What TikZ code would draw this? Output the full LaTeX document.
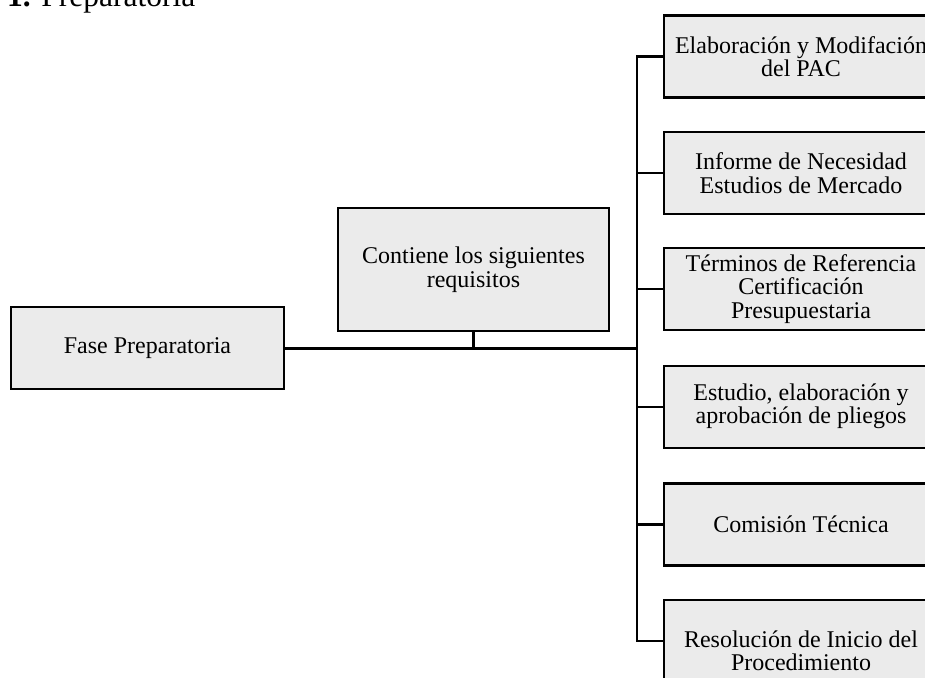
\documentclass[tikz,border=0pt]{standalone}
\usepackage{fontspec}
\setmainfont{Liberation Serif}
\definecolor{boxgray}{RGB}{235,235,235}
\begin{document}
\begin{tikzpicture}[x=1pt,y=-1pt,
  box/.style={draw=black, line width=2.3pt, fill=boxgray, inner sep=0pt, align=center,
    font=\fontsize{24}{23.5}\selectfont},
  fasebox/.style={box, minimum width=273pt, minimum height=82pt},
  reqbox/.style={box, minimum width=274pt, minimum height=82pt},
  conn/.style={line width=2.4pt, line join=miter},
  mainconn/.style={line width=3pt}]
\useasboundingbox (0,0) rectangle (925,677);
\clip (0,0) rectangle (925,677);

\node[anchor=base west, inner sep=0pt, font=\fontsize{31.5}{32}\selectfont] (title) at (7,7) {\textbf{1.} Preparatoria};

\node[fasebox] (fase) at (147.5,348) {Fase Preparatoria};
\node[box, minimum width=271pt, minimum height=123pt] (cont) at (473.5,269.5) {Contiene los siguientes\\requisitos};

\node[reqbox] (r1) at (801,56.5) {Elaboración y Modifación\\del PAC};
\node[reqbox] (r2) at (801,173) {Informe de Necesidad\\Estudios de Mercado};
\node[reqbox] (r3) at (801,289) {Términos de Referencia\\Certificación\\Presupuestaria};
\node[reqbox] (r4) at (801,407) {\raisebox{-6pt}{\begin{tabular}{@{}c@{}}Estudio, elaboración y\\[-0.5pt]aprobación de pliegos\end{tabular}}};
\node[reqbox] (r5) at (801,524.5) {Comisión Técnica};
\node[reqbox, minimum height=102pt] (r6) at (801,651) {Resolución de Inicio del\\Procedimiento};

\coordinate (bustop) at (637,56.5);
\coordinate (busbot) at (637,641);
\coordinate (busmid) at (637,348);

\draw[conn] (r1.west) -- (bustop) -- (busbot) -- (busbot -| r6.west);
\draw[conn] (bustop |- r2.west) -- (r2.west);
\draw[conn] (bustop |- r3.west) -- (r3.west);
\draw[conn] (bustop |- r4.west) -- (r4.west);
\draw[conn] (bustop |- r5.west) -- (r5.west);
\draw[mainconn] (fase.east) -- (busmid);
\draw[conn] (cont.south) -- (cont.south |- fase.east);
\end{tikzpicture}
\end{document}
